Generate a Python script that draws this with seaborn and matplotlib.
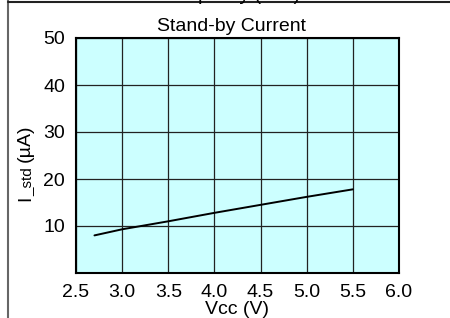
import numpy as np
import pandas as pd
import matplotlib.pyplot as plt
from matplotlib.lines import Line2D
import seaborn as sns

# values
vcc = [2.7, 3.0, 3.5, 4.0, 4.5, 5.0, 5.5]
i_std = [8.0, 9.3, 11.0, 12.8, 14.5, 16.2, 17.8]
x_ticks = [2.5, 3.0, 3.5, 4.0, 4.5, 5.0, 5.5, 6.0]
y_ticks = [10, 20, 30, 40, 50]

sns.set_theme(style="white")
plt.rcParams['font.family'] = ['Liberation Sans', 'DejaVu Sans']
plt.rcParams['text.color'] = 'black'

df = pd.DataFrame({"Vcc": vcc, "I_std": i_std})

fig = plt.figure(figsize=(4.5, 3.18), dpi=100)
ax = fig.add_axes([76 / 450, 1 - 273 / 318, 323 / 450, 235 / 318])
ax.set_facecolor("#ccffff")

sns.lineplot(data=df, x="Vcc", y="I_std", color="black", linewidth=1.4, ax=ax)

ax.set_xlim(2.5, 6.0)
ax.set_ylim(0, 50)
ax.set_xticks(x_ticks)
ax.set_xticklabels([f"{t:.1f}" for t in x_ticks])
ax.set_yticks(np.arange(0, 51, 10))
ax.set_yticklabels([""] + [str(t) for t in y_ticks])
ax.grid(True, color="#222222", linewidth=0.9)
ax.tick_params(axis="both", labelsize=14, length=2, pad=6, colors="black", labelcolor="black")
for s in ax.spines.values():
    s.set_color("black")
    s.set_linewidth(1.5)

ax.set_title("Stand-by Current", fontsize=14, pad=5, x=0.48, color="black")
ax.set_xlabel("Vcc (V)", fontsize=14, labelpad=0, color="black")
ax.set_ylabel("")

# y label with the small "_std" part
fig.text(30 / 450, 1 - 201 / 318, "I", rotation=90, rotation_mode="anchor",
         ha="left", va="baseline", fontsize=14)
fig.text(31 / 450, 1 - 196 / 318, "_std", rotation=90, rotation_mode="anchor",
         ha="left", va="baseline", fontsize=11)
fig.text(30 / 450, 1 - 162 / 318, "(µA)", rotation=90, rotation_mode="anchor",
         ha="left", va="baseline", fontsize=14)

# cut off heading of the previous section and the page frame
fig.text(237 / 450, 1.0, "Capacity (Vcc)", ha="center", va="baseline", fontsize=14)
fig.add_artist(Line2D([8 / 450, 8 / 450], [0, 1], transform=fig.transFigure,
                      color="#666666", linewidth=1.5))
fig.add_artist(Line2D([8 / 450, 1], [1 - 1.5 / 318, 1 - 1.5 / 318], transform=fig.transFigure,
                      color="#222222", linewidth=1.5))

fig.savefig("out.png", dpi=100)
